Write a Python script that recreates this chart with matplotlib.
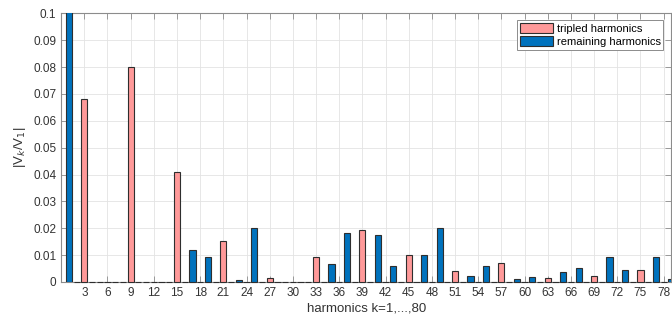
import matplotlib
matplotlib.use("Agg")
import matplotlib.pyplot as plt
import numpy as np

plt.rcParams['font.family'] = ['Liberation Sans', 'DejaVu Sans']

# Harmonic orders (k = 1..80)
tripled_k = [3, 6, 9, 12, 15, 18, 21, 24, 27, 30, 33, 36, 39,
             42, 45, 48, 51, 54, 57, 60, 63, 66, 69, 72, 75, 78]
tripled_vals = [0.068, 0, 0.080, 0, 0.041, 0, 0.0152, 0, 0.0016, 0, 0.0094, 0, 0.0192,
                0, 0.0099, 0, 0.0040, 0, 0.0069, 0, 0.0015, 0, 0.0021, 0, 0.0043, 0]

remaining_k = [1, 2, 4, 5, 7, 8, 10, 11, 13, 14, 16, 17, 19, 20, 22, 23, 25, 26,
               28, 29, 31, 32, 34, 35, 37, 38, 40, 41, 43, 44, 46, 47, 49, 50,
               52, 53, 55, 56, 58, 59, 61, 62, 64, 65, 67, 68, 70, 71, 73, 74,
               76, 77, 79, 80]
remaining_vals = [1.0, 0, 0, 0, 0, 0, 0, 0, 0, 0, 0, 0.0120, 0.0092, 0, 0, 0.0007, 0.0201, 0,
                  0, 0, 0, 0, 0, 0.0068, 0.0183, 0, 0, 0.0175, 0.0058, 0, 0, 0.0099, 0.0202, 0,
                  0, 0.0021, 0.0059, 0, 0, 0.0011, 0.0019, 0, 0, 0.0038, 0.0052, 0, 0, 0.0093,
                  0.0045, 0, 0, 0.0093, 0.0012, 0]

xticks = list(range(3, 79, 3))
yticks = [0, 0.01, 0.02, 0.03, 0.04, 0.05, 0.06, 0.07, 0.08, 0.09, 0.1]
ytick_labels = ['0', '0.01', '0.02', '0.03', '0.04', '0.05', '0.06', '0.07', '0.08', '0.09', '0.1']

fig = plt.figure(figsize=(6.72, 3.2), dpi=100)
ax = fig.add_axes([0.091, 0.119, 0.908, 0.839])

edge = '#2e2e2e'
bars_t = ax.bar(tripled_k, tripled_vals, width=0.8, color='#ff9999', edgecolor=edge,
                linewidth=0.8, label='tripled harmonics', zorder=3)
bars_r = ax.bar(remaining_k, remaining_vals, width=0.8, color='#0072bd', edgecolor=edge,
                linewidth=0.8, label='remaining harmonics', zorder=3)

ax.set_xlim(0, 79)
ax.set_ylim(0, 0.1)

# let bars that fit inside the axes show their full outline (zero-height baseline dashes)
for p in list(bars_t) + list(bars_r):
    if p.get_height() < 0.1 and p.get_x() + p.get_width() < 79:
        p.set_clip_on(False)

ax.set_xticks(xticks)
ax.set_yticks(yticks)
ax.set_yticklabels(ytick_labels)

ax.set_axisbelow(True)
ax.grid(True, color='#e3e3e3', linewidth=0.6)
for s in ax.spines.values():
    s.set_color('#8c8c8c')
    s.set_linewidth(0.8)
ax.spines['bottom'].set_zorder(0.5)
ax.tick_params(direction='in', length=4, width=0.6, color='#8c8c8c',
               labelcolor='#333333', labelsize=8.5, top=True, right=True)

ax.set_xlabel('harmonics k=1,...,80', fontsize=9.5, color='#333333', labelpad=3)
ax.set_ylabel('|V$_k$/V$_1$|', fontsize=9.5, color='#333333', labelpad=4)

leg = ax.legend(loc='upper right', bbox_to_anchor=(0.987, 0.975), borderaxespad=0,
                fontsize=8, frameon=True, fancybox=False, framealpha=1,
                edgecolor='#8c8c8c', handlelength=3.0, handleheight=1.0,
                handletextpad=0.3, borderpad=0.25, labelspacing=0.25)
leg.get_frame().set_linewidth(0.7)
leg.set_zorder(5)

fig.savefig('out.png', dpi=100)
plt.close(fig)
